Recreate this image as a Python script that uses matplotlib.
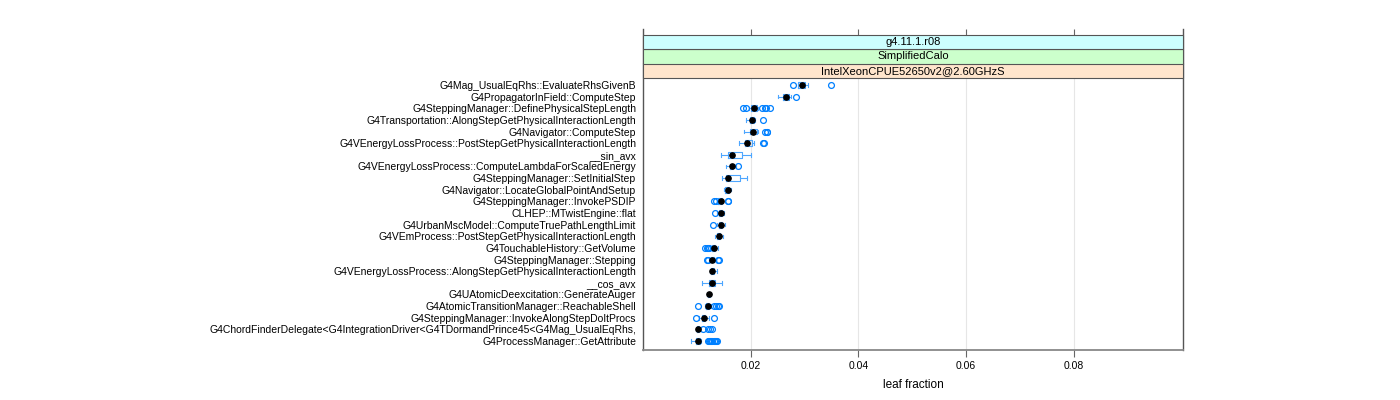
import matplotlib
matplotlib.use("Agg")
import matplotlib.pyplot as plt
from matplotlib.patches import Rectangle
import numpy as np

plt.rcParams["font.family"] = ["Liberation Sans", "DejaVu Sans"]

# rows, top to bottom
names = [
    "G4Mag_UsualEqRhs::EvaluateRhsGivenB",
    "G4PropagatorInField::ComputeStep",
    "G4SteppingManager::DefinePhysicalStepLength",
    "G4Transportation::AlongStepGetPhysicalInteractionLength",
    "G4Navigator::ComputeStep",
    "G4VEnergyLossProcess::PostStepGetPhysicalInteractionLength",
    "__sin_avx",
    "G4VEnergyLossProcess::ComputeLambdaForScaledEnergy",
    "G4SteppingManager::SetInitialStep",
    "G4Navigator::LocateGlobalPointAndSetup",
    "G4SteppingManager::InvokePSDIP",
    "CLHEP::MTwistEngine::flat",
    "G4UrbanMscModel::ComputeTruePathLengthLimit",
    "G4VEmProcess::PostStepGetPhysicalInteractionLength",
    "G4TouchableHistory::GetVolume",
    "G4SteppingManager::Stepping",
    "G4VEnergyLossProcess::AlongStepGetPhysicalInteractionLength",
    "__cos_avx",
    "G4UAtomicDeexcitation::GenerateAuger",
    "G4AtomicTransitionManager::ReachableShell",
    "G4SteppingManager::InvokeAlongStepDoItProcs",
    "G4ChordFinderDelegate<G4IntegrationDriver<G4TDormandPrince45<G4Mag_UsualEqRhs,",
    "G4ProcessManager::GetAttribute",
]

whislo = [0.0287, 0.0250, 0.0196, 0.0191, 0.0187, 0.0178, 0.0144, 0.0154, 0.0146, 0.0150, 0.0138, 0.0138,
          0.0138, 0.0133, 0.0126, 0.0122, 0.0124, 0.0109, 0.0118, 0.0115, 0.0104, 0.0098, 0.0090]
q1 = [0.0287, 0.0260, 0.0200, 0.0198, 0.0198, 0.0189, 0.0157, 0.0161, 0.0154, 0.0153, 0.0140, 0.0141,
      0.0141, 0.0137, 0.0128, 0.0126, 0.0126, 0.0122, 0.0120, 0.0117, 0.0110, 0.0100, 0.0098]
med = [0.0295, 0.0265, 0.0206, 0.0202, 0.0204, 0.0194, 0.0166, 0.0165, 0.0157, 0.0157, 0.0144, 0.0144,
       0.0144, 0.0141, 0.0131, 0.0129, 0.0128, 0.0128, 0.0122, 0.0120, 0.0113, 0.0102, 0.0102]
q3 = [0.0300, 0.0272, 0.0211, 0.0206, 0.0211, 0.0202, 0.0183, 0.0168, 0.0180, 0.0160, 0.0147, 0.0147,
      0.0147, 0.0143, 0.0134, 0.0132, 0.0131, 0.0133, 0.0124, 0.0123, 0.0116, 0.0104, 0.0106]
whishi = [0.0306, 0.0274, 0.0214, 0.0208, 0.0214, 0.0207, 0.0200, 0.0172, 0.0193, 0.0163, 0.0147, 0.0151,
          0.0153, 0.0148, 0.0139, 0.0136, 0.0137, 0.0146, 0.0126, 0.0126, 0.0122, 0.0106, 0.0108]
fliers = [
    [0.0278, 0.0349],
    [0.0284],
    [0.0186, 0.0192, 0.0221, 0.0226, 0.0229, 0.0235],
    [0.0222],
    [0.0226, 0.0230, 0.0231],
    [0.0222, 0.0224],
    [],
    [0.0176],
    [],
    [],
    [0.0131, 0.0135, 0.0157, 0.0158],
    [0.0133],
    [0.0130],
    [],
    [0.0116, 0.0118, 0.0120, 0.0122],
    [0.0118, 0.0120, 0.0140, 0.0142],
    [],
    [],
    [],
    [0.0103, 0.0131, 0.0135, 0.0139, 0.0141],
    [0.0098, 0.0131],
    [0.0111, 0.0120, 0.0124, 0.0129],
    [0.0121, 0.0123, 0.0125, 0.0127, 0.0129, 0.0131, 0.0133, 0.0135, 0.0137],
]

strip_labels = ["g4.11.1.r08", "SimplifiedCalo", "IntelXeonCPUE52650v2@2.60GHzS"]
strip_colors = ["#ccffff", "#ccffcc", "#ffe5cc"]
xticks = [0.02, 0.04, 0.06, 0.08]

blue = "#0080ff"

fig = plt.figure(figsize=(14, 4), dpi=100)
ax = fig.add_axes([643 / 1400, 50 / 400, 540 / 1400, 321 / 400])

stats = []
for i in range(len(names)):
    stats.append(dict(whislo=whislo[i], q1=q1[i], med=med[i], q3=q3[i], whishi=whishi[i],
                      mean=med[i], fliers=fliers[i], label=names[i]))

pos = np.arange(len(names), 0, -1)
ax.bxp(stats, positions=pos, orientation="horizontal", widths=0.5, showmeans=True,
       boxprops=dict(color="#4da6ff", lw=0.8),
       whiskerprops=dict(color="#4da6ff", lw=0.8),
       capprops=dict(color="#4da6ff", lw=0.8),
       capwidths=0.3,
       medianprops=dict(lw=0),
       meanprops=dict(marker="o", markerfacecolor="black", markeredgecolor="black", markersize=3.8),
       flierprops=dict(marker="o", markerfacecolor="none", markeredgecolor=blue, markersize=4.2, mew=0.9))

ax.set_xlim(0, 0.1003)
ax.set_ylim(0.23, 27.81)

strip_bottom = (350 - 78) / 321
for t in xticks:
    ax.axvline(t, ymin=0, ymax=strip_bottom, color="#e6e6e6", lw=0.8, zorder=0)

edges = [(350 - y) / 321 for y in (78, 63.5, 49, 35.5)]
for i, (lab, col) in enumerate(zip(strip_labels[::-1], strip_colors[::-1])):
    y0, y1 = edges[i], edges[i + 1]
    ax.add_patch(Rectangle((0, y0), 1, y1 - y0, transform=ax.transAxes, facecolor=col,
                           edgecolor="#555555", lw=0.8, zorder=5, clip_on=False))
    ax.text(0.5, (y0 + y1) / 2, lab, transform=ax.transAxes, ha="center", va="center",
            fontsize=8, zorder=6)

ax.set_xticks(xticks)
ax.set_xticklabels(["0.02", "0.04", "0.06", "0.08"])
ax.tick_params(axis="x", which="both", top=True, bottom=True, direction="out", length=5,
               color="#666666", labelsize=7.5, pad=3)
ax.tick_params(axis="x", top=True, labeltop=False)
for tk in ax.xaxis.get_major_ticks():
    tk.tick2line.set_marker(matplotlib.lines.TICKDOWN)
ax.set_yticks(pos)
ax.set_yticklabels(names)
ax.tick_params(axis="y", length=0, labelsize=7.5, pad=5)

ax.spines["top"].set_visible(False)
for s in ("left", "right"):
    ax.spines[s].set_color("#555555")
    ax.spines[s].set_linewidth(1)
ax.spines["bottom"].set_color("#888888")
ax.spines["bottom"].set_linewidth(1.3)

ax.set_xlabel("leaf fraction", fontsize=8.5, labelpad=6)

fig.savefig("out.png", dpi=100)
